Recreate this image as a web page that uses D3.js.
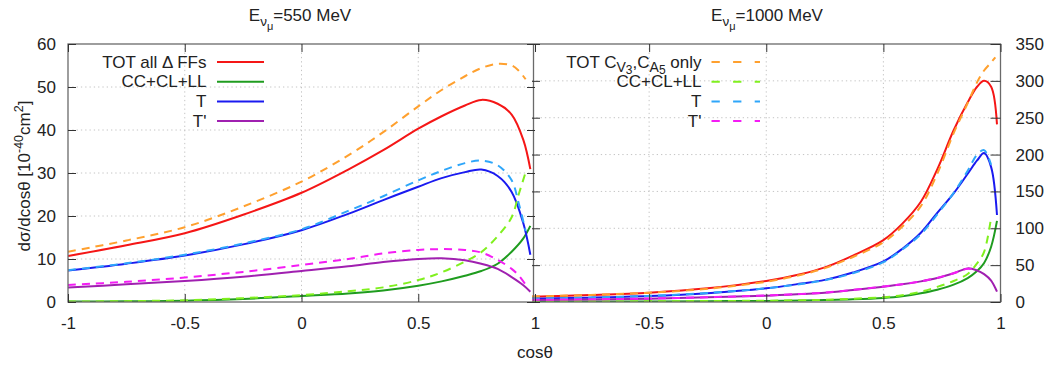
<!DOCTYPE html>
<html>
<head>
<meta charset="utf-8">
<script src="https://cdn.jsdelivr.net/npm/d3@7"></script>
<style>
  html, body { margin: 0; padding: 0; background: #fff; }
  svg text { font-family: "Liberation Sans", Arial, sans-serif; fill: #222; }
</style>
</head>
<body>
<svg id="chart" width="1049" height="369"></svg>
<script>
// ---- E_nu = 550 MeV : dsigma/dcos(theta) in 10^-40 cm^2 ----
const cos550Full = [-1, -0.75, -0.5, -0.25, 0, 0.2, 0.35, 0.5, 0.6, 0.7, 0.77, 0.84, 0.9, 0.95, 0.98];
const tot550Full = [10.7, 13.2, 16.0, 20.3, 25.4, 30.8, 35.3, 40.3, 43.2, 45.7, 47.0, 46.1, 43.6, 37.7, 30.9];
const ccl550Full = [0.1, 0.15, 0.3, 0.7, 1.4, 2.0, 2.7, 3.8, 4.8, 6.1, 7.2, 8.9, 11.7, 14.8, 17.7];
const t550Full   = [7.3, 8.9, 10.8, 13.4, 16.7, 20.5, 23.7, 26.8, 28.8, 30.2, 30.8, 29.3, 25.6, 18.3, 11.0];
const tp550Full  = [3.4, 4.1, 4.9, 5.9, 7.2, 8.3, 9.3, 10.0, 10.15, 9.7, 8.9, 7.7, 5.8, 3.9, 2.4];

const cos550Cv = [-1, -0.75, -0.5, -0.25, 0, 0.2, 0.35, 0.5, 0.6, 0.7, 0.77, 0.84, 0.9, 0.93, 0.96];
const tot550Cv = [11.7, 14.3, 17.4, 22.2, 28.0, 34.1, 39.5, 45.5, 49.3, 52.5, 54.4, 55.4, 55.0, 53.8, 51.8];
const ccl550Cv = [0.1, 0.2, 0.4, 0.9, 1.6, 2.5, 3.4, 5.1, 6.9, 9.4, 11.6, 15.3, 19.7, 25.0, 30.2];
const t550Cv   = [7.4, 9.0, 11.0, 13.6, 16.9, 21.2, 24.6, 28.3, 30.5, 32.3, 32.9, 31.8, 28.3, 23.0, 16.5];
const tp550Cv  = [3.95, 4.7, 5.7, 7.0, 8.6, 10.0, 11.3, 12.1, 12.3, 12.1, 11.5, 9.8, 7.7, 6.2, 4.0];

// ---- E_nu = 1000 MeV ----
const cos1000Full = [-1, -0.75, -0.5, -0.25, 0, 0.15, 0.25, 0.37, 0.5, 0.58, 0.66, 0.73, 0.8, 0.86, 0.9, 0.93, 0.96, 0.985];
const tot1000Full = [7.2, 9.5, 12.7, 18.5, 28.5, 38, 47, 63, 84, 106, 136, 180, 233, 271, 292, 300, 292, 241];
const ccl1000Full = [0.5, 0.6, 0.8, 1.1, 1.5, 2.0, 2.6, 3.6, 5.5, 7.8, 11.8, 16.6, 23.5, 32.5, 42, 53, 75, 110];
const t1000Full   = [4.5, 5.9, 8.1, 12.0, 18.5, 25, 30, 40, 55, 72, 94, 121, 147.5, 174, 192, 202, 183, 118];
const tp1000Full  = [2.7, 3.5, 4.5, 6.3, 8.6, 10.8, 12.5, 16.3, 20.8, 24, 28, 32.5, 39, 45.6, 42.8, 37.8, 29, 14];

const cos1000Cv = [-1, -0.75, -0.5, -0.25, 0, 0.15, 0.25, 0.37, 0.5, 0.58, 0.66, 0.73, 0.8, 0.86, 0.9, 0.93, 0.96, 0.978];
const tot1000Cv = [7.5, 9.6, 12.6, 18, 27.5, 37, 46, 61, 81, 102, 130, 174, 229, 270, 298, 314, 325, 332];
const ccl1000Cv = [0.6, 0.7, 0.9, 1.3, 1.8, 2.4, 3.0, 4.5, 6.5, 9.2, 14, 20.5, 28.5, 38, 52.5, 68, 115];
const t1000Cv   = [4.6, 6.0, 8.3, 12.3, 18.5, 24.5, 29.5, 39, 54, 71, 92, 119, 148, 178, 200, 206, 186];
const tp1000Cv  = [2.9, 3.7, 4.7, 6.5, 8.8, 11, 12.8, 16.5, 21, 24.2, 28, 32.7, 39, 45, 43];

// ---- axis ticks ----
const xTicksLeft  = [-1, -0.5, 0, 0.5, 1];
const xTicksRight = [-0.5, 0, 0.5, 1];
const yTicks550   = [0, 10, 20, 30, 40, 50, 60];
const yTicks1000  = [0, 50, 100, 150, 200, 250, 300, 350];

const svg = d3.select("#chart");
const FONT = 17;
const TOP = 44, BOTTOM = 302;

const xL = d3.scaleLinear().domain([-1, 1]).range([68, 535]);
const yL = d3.scaleLinear().domain([0, 60]).range([BOTTOM, TOP]);
const xR = d3.scaleLinear().domain([-1, 1]).range([532, 1000.5]);
const yR = d3.scaleLinear().domain([0, 350]).range([BOTTOM, TOP]);

const COL = {
  red: "#f51616", green: "#1f9c1f", blue: "#1a1af0", purple: "#a020b0",
  orange: "#ffa02e", lgreen: "#80f01e", lblue: "#2ea6fa", magenta: "#f41cf4"
};
const DASH = "8,6";

function zip(xs, ys) { return ys.map((v, i) => [xs[i], v]); }

function drawPanel(x, y, gridY, id) {
  const g = svg.append("g");
  const [x0, x1] = x.range();
  // dotted grid
  g.selectAll(".gy").data(gridY).join("line")
    .attr("x1", x0).attr("x2", x1)
    .attr("y1", d => y(d)).attr("y2", d => y(d))
    .attr("stroke", "#c4c4c4").attr("stroke-width", 1).attr("stroke-dasharray", "1.3,3");
  g.selectAll(".gx").data([-0.5, 0, 0.5]).join("line")
    .attr("x1", d => x(d)).attr("x2", d => x(d))
    .attr("y1", TOP).attr("y2", BOTTOM)
    .attr("stroke", "#c4c4c4").attr("stroke-width", 1).attr("stroke-dasharray", "1.3,3");
  svg.append("clipPath").attr("id", id)
    .append("rect").attr("x", x0).attr("y", TOP).attr("width", x1 - x0).attr("height", BOTTOM - TOP);
  return g;
}

function drawCurves(g, x, y, id, curves) {
  const line = d3.line().x(d => x(d[0])).y(d => y(d[1])).curve(d3.curveCatmullRom.alpha(0.5));
  const cg = g.append("g").attr("clip-path", `url(#${id})`);
  curves.forEach(c => {
    cg.append("path").attr("d", line(zip(c.xs, c.ys)))
      .attr("fill", "none").attr("stroke", c.color).attr("stroke-width", 2)
      .attr("stroke-linejoin", "round")
      .attr("stroke-dasharray", c.dash ? DASH : null);
  });
}

function styleAxis(sel, labels) {
  sel.select(".domain").remove();
  sel.selectAll(".tick line").attr("stroke", "#333").attr("stroke-width", 1);
  sel.selectAll(".tick text").attr("font-size", FONT)
    .attr("font-family", "Liberation Sans, Arial, sans-serif").attr("fill", "#222");
  if (!labels) sel.selectAll(".tick text").remove();
  sel.attr("font-size", null).attr("font-family", null);
}
const fmt = d => String(d);

// ---- left panel ----
const gL = drawPanel(xL, yL, [10, 20, 30, 40, 50], "clipL");
drawCurves(gL, xL, yL, "clipL", [
  { xs: cos550Full, ys: tot550Full, color: COL.red },
  { xs: cos550Full, ys: ccl550Full, color: COL.green },
  { xs: cos550Full, ys: t550Full, color: COL.blue },
  { xs: cos550Full, ys: tp550Full, color: COL.purple },
  { xs: cos550Cv, ys: tot550Cv, color: COL.orange, dash: true },
  { xs: cos550Cv, ys: ccl550Cv, color: COL.lgreen, dash: true },
  { xs: cos550Cv, ys: t550Cv, color: COL.lblue, dash: true },
  { xs: cos550Cv, ys: tp550Cv, color: COL.magenta, dash: true }
]);

// ---- right panel ----
const gR = drawPanel(xR, yR, [50, 100, 150, 200, 250, 300], "clipR");
drawCurves(gR, xR, yR, "clipR", [
  { xs: cos1000Full, ys: tot1000Full, color: COL.red },
  { xs: cos1000Full, ys: ccl1000Full, color: COL.green },
  { xs: cos1000Full, ys: t1000Full, color: COL.blue },
  { xs: cos1000Full, ys: tp1000Full, color: COL.purple },
  { xs: cos1000Cv, ys: tot1000Cv, color: COL.orange, dash: true },
  { xs: cos1000Cv, ys: ccl1000Cv, color: COL.lgreen, dash: true },
  { xs: cos1000Cv, ys: t1000Cv, color: COL.lblue, dash: true },
  { xs: cos1000Cv, ys: tp1000Cv, color: COL.magenta, dash: true }
]);

// ---- frames: outer box plus a single shared divider ----
const frame = svg.append("g").attr("fill", "none").attr("stroke", "#6a6a6a").attr("stroke-width", 1.3);
frame.append("rect").attr("x", xL(-1)).attr("y", TOP)
  .attr("width", xR(1) - xL(-1)).attr("height", BOTTOM - TOP);
frame.append("line").attr("x1", 533.5).attr("x2", 533.5).attr("y1", TOP).attr("y2", BOTTOM);

// ---- axes ----
svg.append("g").attr("transform", `translate(${xL(-1)},0)`)
  .call(d3.axisLeft(yL).tickValues(yTicks550).tickSize(-8).tickPadding(12).tickFormat(fmt))
  .call(s => styleAxis(s, true));
svg.append("g").attr("transform", `translate(${xL(1)},0)`)
  .call(d3.axisRight(yL).tickValues(yTicks550).tickSize(-8))
  .call(s => styleAxis(s, false));
svg.append("g").attr("transform", `translate(0,${BOTTOM})`)
  .call(d3.axisBottom(xL).tickValues(xTicksLeft).tickSize(-8).tickPadding(15).tickFormat(fmt))
  .call(s => styleAxis(s, true));
svg.append("g").attr("transform", `translate(0,${TOP})`)
  .call(d3.axisTop(xL).tickValues(xTicksLeft).tickSize(-8))
  .call(s => styleAxis(s, false));

svg.append("g").attr("transform", `translate(${xR(1)},0)`)
  .call(d3.axisRight(yR).tickValues(yTicks1000).tickSize(-10).tickPadding(15).tickFormat(fmt))
  .call(s => styleAxis(s, true));
svg.append("g").attr("transform", `translate(${xR(-1)},0)`)
  .call(d3.axisLeft(yR).tickValues(yTicks1000).tickSize(-8))
  .call(s => styleAxis(s, false));
svg.append("g").attr("transform", `translate(0,${BOTTOM})`)
  .call(d3.axisBottom(xR).tickValues(xTicksRight).tickSize(-8).tickPadding(15).tickFormat(fmt))
  .call(s => styleAxis(s, true));
svg.append("g").attr("transform", `translate(0,${TOP})`)
  .call(d3.axisTop(xR).tickValues(xTicksRight).tickSize(-8))
  .call(s => styleAxis(s, false));

// ---- titles ----
function title(cx, energy) {
  const t = svg.append("text").attr("x", cx).attr("y", 21).attr("text-anchor", "middle").attr("font-size", FONT);
  t.append("tspan").text("E");
  t.append("tspan").attr("dy", 5).attr("font-size", 13.5).text("ν");
  t.append("tspan").attr("dy", 3.5).attr("font-size", 11).text("μ");
  t.append("tspan").attr("dy", -8.5).attr("font-size", FONT).text(`=${energy} MeV`);
}
title(300, "550");
title(767, "1000");

// ---- axis titles ----
const yt = svg.append("text").attr("transform", "translate(30,176) rotate(-90)")
  .attr("text-anchor", "middle").attr("font-size", FONT);
yt.append("tspan").text("dσ/dcosθ [10");
yt.append("tspan").attr("dy", -7).attr("font-size", 12.5).text("-40");
yt.append("tspan").attr("dy", 7).attr("font-size", FONT).text("cm");
yt.append("tspan").attr("dy", -7).attr("font-size", 12.5).text("2");
yt.append("tspan").attr("dy", 7).attr("font-size", FONT).text("]");

svg.append("text").attr("x", 535).attr("y", 358).attr("text-anchor", "middle")
  .attr("font-size", FONT).text("cosθ");

// ---- legends ----
const legendLeft  = ["TOT all Δ FFs", "CC+CL+LL", "T", "T'"];
const legendRight = ["TOT C_V3,C_A5 only", "CC+CL+LL", "T", "T'"];
const legLeftCols  = [COL.red, COL.green, COL.blue, COL.purple];
const legRightCols = [COL.orange, COL.lgreen, COL.lblue, COL.magenta];

function legend(textX, lx0, lx1, labels, cols, dashed) {
  labels.forEach((lab, i) => {
    const yy = 62 + i * 19.7;
    const t = svg.append("text").attr("x", textX).attr("y", yy + 5.7)
      .attr("text-anchor", "end").attr("font-size", FONT);
    if (lab.startsWith("TOT C_")) {
      t.append("tspan").text("TOT C");
      t.append("tspan").attr("dy", 4).attr("font-size", 14).text("V");
      t.append("tspan").attr("dy", 2.5).attr("font-size", 12).text("3");
      t.append("tspan").attr("dy", -6.5).attr("font-size", FONT).text(",C");
      t.append("tspan").attr("dy", 4).attr("font-size", 14).text("A");
      t.append("tspan").attr("dy", 2.5).attr("font-size", 12).text("5");
      t.append("tspan").attr("dy", -6.5).attr("font-size", FONT).text(" only");
    } else {
      t.text(lab);
    }
    svg.append("line").attr("x1", lx0).attr("x2", lx1).attr("y1", yy).attr("y2", yy)
      .attr("stroke", cols[i]).attr("stroke-width", 2)
      .attr("stroke-dasharray", dashed ? "8.3,13.3" : null);
  });
}
legend(206.5, 217, 264, legendLeft, legLeftCols, false);
legend(701.5, 711.5, 760, legendRight, legRightCols, true);
</script>
</body>
</html>
